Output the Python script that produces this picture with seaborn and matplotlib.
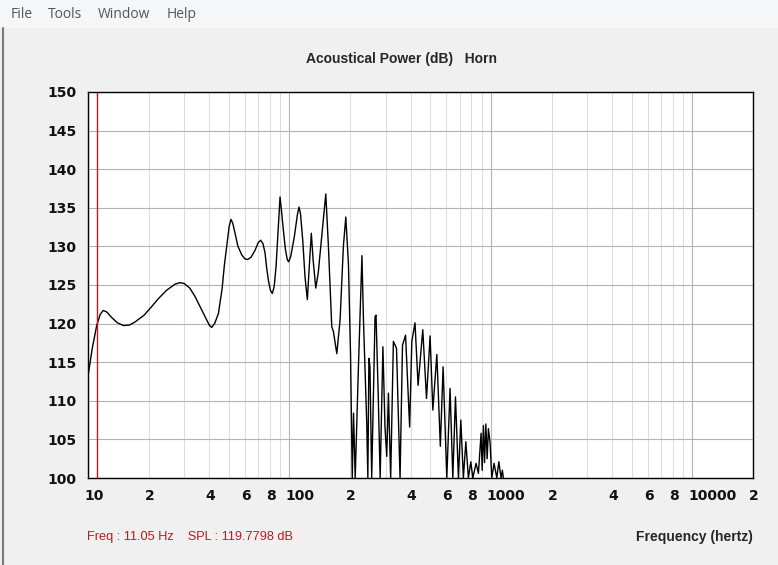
import pandas as pd
import seaborn as sns
import matplotlib.pyplot as plt
from matplotlib.lines import Line2D
from matplotlib.patches import Rectangle
from matplotlib.transforms import ScaledTranslation

# acoustical power of the horn (100 dB = off scale at the bottom)
FREQ_HZ = [
    10.0, 10.5, 11.05, 11.5, 11.9, 12.4, 13.1, 14.0, 15.0, 16.0,
    17.1, 19.0, 20.7, 22.3, 24.5, 27.0, 28.5, 30.0, 32.0, 34.0,
    36.0, 38.1, 40.0, 41.1, 42.5, 44.4, 46.3, 47.5, 48.8, 50.2,
    51.3, 52.3, 53.7, 55.5, 58.0, 60.0, 62.0, 64.5, 67.5, 70.0,
    72.0, 74.0, 75.7, 77.0, 78.6, 80.5, 82.2, 84.0, 85.8, 87.8,
    89.8, 91.3, 93.3, 95.5, 97.5, 99.0, 101.5, 105.8, 109.5, 111.6,
    113.5, 116.4, 119.5, 122.7, 125.5, 128.4, 131.0, 135.1, 139.0, 143.0,
    147.0, 151.5, 156.1, 162.2, 165.2, 171.8, 178.4, 185.2, 190.4, 196.2,
    201, 205, 208, 212, 216, 220, 229, 233, 242, 245,
    248, 251, 256, 266, 269, 276, 282, 291, 298, 304,
    310, 318, 328, 340, 354, 364, 377, 395, 405, 420,
    435, 459, 479, 499, 515, 539, 561, 579, 604, 627,
    647, 667, 690, 709, 730, 751, 773, 795, 813, 844,
    867, 894, 905, 918, 930, 944, 958, 972, 991, 1010,
    1037, 1070, 1095, 1123, 1140, 1153,
]
SPL_DB = [
    113.2, 116.8, 119.78, 121.2, 121.7, 121.5, 120.8, 120.1, 119.75, 119.8,
    120.2, 121.1, 122.2, 123.2, 124.3, 125.1, 125.3, 125.2, 124.6, 123.5,
    122.2, 120.9, 119.8, 119.5, 120.0, 121.3, 124.5, 127.5, 130.0, 132.6,
    133.5, 133.0, 131.7, 130.0, 128.9, 128.4, 128.3, 128.6, 129.5, 130.5,
    130.8, 130.3, 129.1, 127.3, 125.6, 124.3, 123.9, 124.8, 127.4, 132.0,
    136.4, 134.6, 132.1, 129.6, 128.3, 128.0, 128.7, 131.3, 134.1, 135.1,
    134.2, 130.8, 126.0, 123.1, 127.5, 131.7, 128.3, 124.6, 126.6, 130.0,
    133.4, 136.8, 130.0, 119.6, 119.0, 116.1, 120.5, 130.0, 133.8, 127.8,
    116.0, 100, 108.4, 100, 107.5, 114.4, 128.8, 120.5, 107.0, 100,
    115.5, 114.4, 100, 120.9, 121.1, 110.5, 100, 117.0, 106.6, 102.8,
    111.0, 100, 117.7, 116.8, 100, 117.2, 118.5, 106.6, 117.7, 120.1,
    112.0, 119.2, 110.3, 118.4, 108.8, 116.0, 104.1, 114.4, 100, 111.6,
    100, 110.5, 100, 107.5, 100, 104.7, 100, 102.1, 100, 101.9,
    100.6, 105.8, 101.0, 106.8, 102.0, 107.0, 102.5, 106.4, 104.5, 100,
    101.9, 100, 102.1, 100, 101.0, 100,
]

CURSOR_HZ = 11.05
CURSOR_DB = 119.7798

TITLE = "Acoustical Power (dB)   Horn"
X_LABEL = "Frequency (hertz)"
MENU_ITEMS = ["File", "Tools", "Window", "Help"]
MENU_X = [11, 48, 98, 167]

Y_TICKS = list(range(100, 151, 5))
DECADES = [10, 100, 1000, 10000]
DECADE_LABELS = ["10", "100", "1000", "10000"]
MINOR_TICKS = [m * d for d in [10, 100, 1000] for m in range(2, 10)] + [20000]
MINOR_LABELS = ["2", "", "4", "", "6", "", "8", ""] * 3 + ["2"]

W, H = 778, 565
BG = "#f0f0f0"
RED = "#c8141e"


def main():
    sns.set_style("white")
    plt.rcParams["font.family"] = ["DejaVu Sans"]

    fig = plt.figure(figsize=(W / 100, H / 100), dpi=100, facecolor=BG)

    # window chrome: menu bar and left frame edge
    fig.add_artist(Rectangle((0, 1 - 28 / H), 1, 28 / H, transform=fig.transFigure,
                             facecolor="#f5f6f7", edgecolor="none"))
    fig.add_artist(Line2D([3 / W, 3 / W], [0, 1 - 28 / H], transform=fig.transFigure,
                          color="#7a7a7a", lw=1.5))
    for item, x in zip(MENU_ITEMS, MENU_X):
        fig.text(x / W, 1 - 15 / H, item, ha="left", va="center", fontsize=10,
                 family="Open Sans", color="#555555")

    ax = fig.add_axes([88 / W, 87 / H, 665 / W, 386 / H])
    ax.set_facecolor("white")
    ax.set_xscale("log")

    df = pd.DataFrame({"freq": FREQ_HZ, "spl": SPL_DB})
    sns.lineplot(data=df, x="freq", y="spl", ax=ax, color="black", lw=1,
                 estimator=None, sort=False)
    ax.axvline(CURSOR_HZ, color=RED, lw=1)

    ax.set_xlim(10, 20000)
    ax.set_ylim(100, 150)
    ax.set_xlabel("")
    ax.set_ylabel("")

    ax.set_yticks(Y_TICKS)
    ax.set_xticks(DECADES, DECADE_LABELS)
    ax.set_xticks(MINOR_TICKS, MINOR_LABELS, minor=True)
    ax.grid(axis="y", color="#b4b4b4", lw=0.8)
    ax.grid(axis="x", which="major", color="#b4b4b4", lw=0.8)
    ax.grid(axis="x", which="minor", color="#dedede", lw=0.8)
    ax.set_axisbelow(True)

    ax.tick_params(axis="both", which="both", length=0, labelsize=10,
                   labelcolor="#111111")
    ax.tick_params(axis="y", pad=8)
    ax.tick_params(axis="x", which="both", pad=8)
    shift = ScaledTranslation(-4 / 100, 0, fig.dpi_scale_trans)
    for lbl in ax.get_xticklabels(which="both") + ax.get_yticklabels():
        lbl.set_fontweight("bold")
    for lbl in ax.get_xticklabels(which="both"):
        lbl.set_ha("left")
        lbl.set_transform(lbl.get_transform() + shift)

    for side in ax.spines.values():
        side.set_color("black")
        side.set_linewidth(1)

    fig.text(401 / W, 1 - 59 / H, TITLE, ha="center", va="center", fontsize=10,
             fontweight="bold", family="Liberation Sans")
    fig.text(753 / W, 1 - 537 / H, X_LABEL, ha="right", va="center", fontsize=10,
             fontweight="bold", family="Liberation Sans")
    fig.text(87 / W, 1 - 537 / H,
             f"Freq : {CURSOR_HZ:.2f} Hz    SPL : {CURSOR_DB:.4f} dB",
             ha="left", va="center", fontsize=9.2, family="Liberation Sans", color=RED)

    fig.savefig("out.png", dpi=100, facecolor=BG)
    plt.close(fig)


if __name__ == "__main__":
    main()
